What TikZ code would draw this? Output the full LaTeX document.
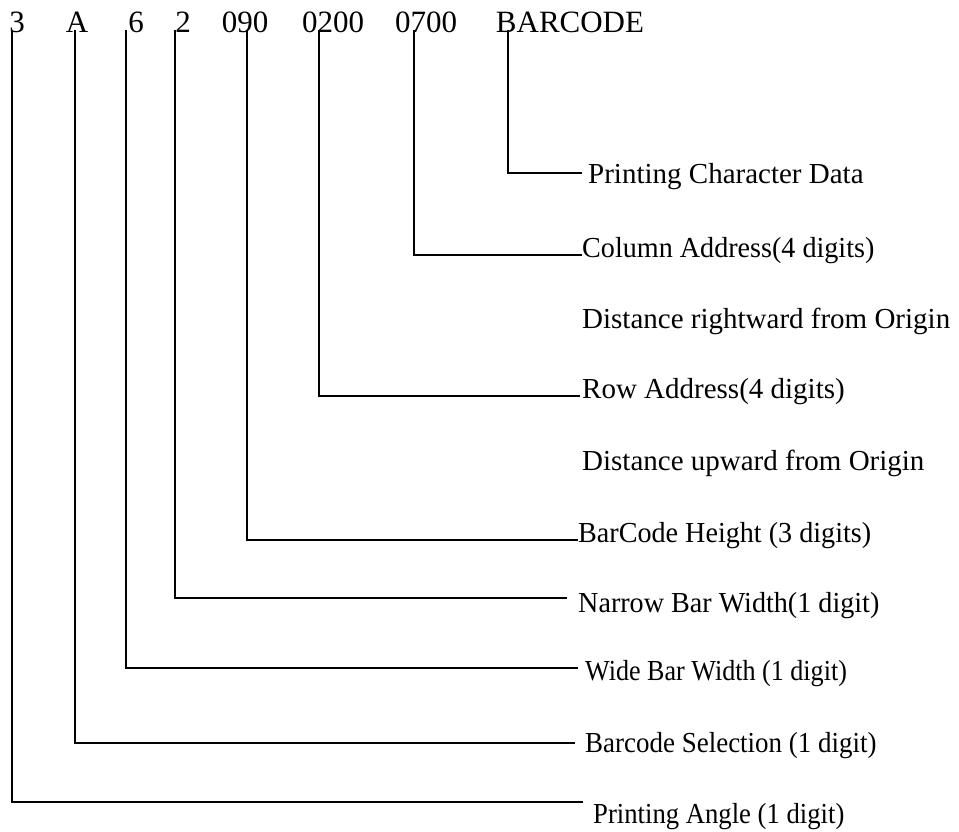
\documentclass[tikz,border=0pt]{standalone}
\usepackage{fontspec}
\setmainfont{Liberation Serif}
\begin{document}
\begin{tikzpicture}[x=1pt,y=-1pt,
  field/.style={anchor=base, inner sep=0pt, font=\fontsize{31}{36}\selectfont},
  lab/.style={anchor=base west, inner sep=0pt, font=\fontsize{29}{34}\selectfont},
  lead/.style={draw=black, line width=1.6pt, line join=miter}]
\useasboundingbox (0,0) rectangle (959,832);
% top row fields
\node[field] (f3)    at (17,33)  {3};
\node[field] (fA)    at (77,33)  {A};
\node[field] (f6)    at (136,33) {6};
\node[field] (f2)    at (183,33) {2};
\node[field] (f090)  at (245,33) {090};
\node[field] (f0200) at (333,33) {0200};
\node[field] (f0700) at (426,33) {0700};
\node[field] (fBC)   at (570,33) {BARCODE};
% labels
\node[lab] (lPCD) at (588,183) {Printing Character Data};
\node[lab] (lCol) at (582,257) {\scalebox{0.97}[1]{Column Address(4 digits)}};
\node[lab] (lDR)  at (582,328) {Distance rightward from Origin};
\node[lab] (lRow) at (582,398) {Row Address(4 digits)};
\node[lab] (lDU)  at (582,470) {Distance upward from Origin};
\node[lab] (lBH)  at (578,542) {\scalebox{0.97}[1]{BarCode Height (3 digits)}};
\node[lab] (lNB)  at (578,612) {\scalebox{0.97}[1]{Narrow Bar Width(1 digit)}};
\node[lab] (lWB)  at (585,680) {\scalebox{0.9}[1]{Wide Bar Width (1 digit)}};
\node[lab] (lBS)  at (585,752) {\scalebox{0.93}[1]{Barcode Selection (1 digit)}};
\node[lab] (lPA)  at (593,823) {\scalebox{0.92}[1]{Printing Angle (1 digit)}};
% leaders
\draw[lead] ([shift={(-5,-3)}]f3.base)     |- ([shift={(-10,-21)}]lPA.base west);
\draw[lead] ([shift={(-2,-3)}]fA.base)     |- ([shift={(-10,-9)}]lBS.base west);
\draw[lead] ([shift={(-10,-3)}]f6.base)    |- ([shift={(-7,-12)}]lWB.base west);
\draw[lead] ([shift={(-8,-3)}]f2.base)     |- ([shift={(-11,-14)}]lNB.base west);
\draw[lead] ([shift={(2,-3)}]f090.base)    |- ([shift={(0,-2)}]lBH.base west);
\draw[lead] ([shift={(-14,-3)}]f0200.base) |- ([shift={(-2,-2)}]lRow.base west);
\draw[lead] ([shift={(-12,-3)}]f0700.base) |- ([shift={(0,-2)}]lCol.base west);
\draw[lead] ([shift={(-62,-3)}]fBC.base)   |- ([shift={(-6,-10)}]lPCD.base west);
\end{tikzpicture}
\end{document}
